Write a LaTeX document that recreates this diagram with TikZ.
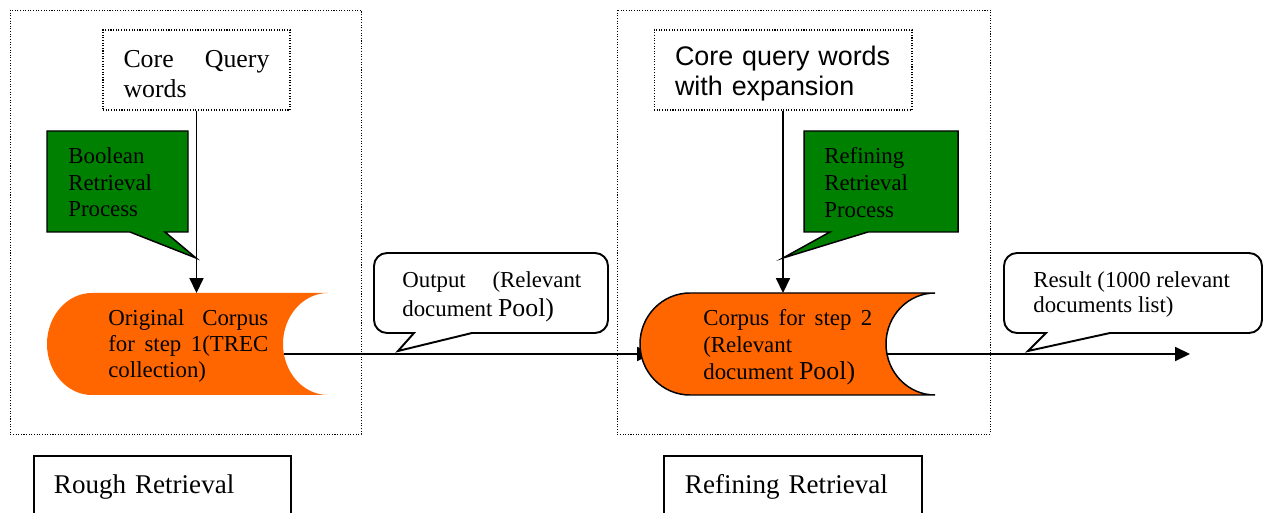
\documentclass[tikz,border=0pt]{standalone}
\usepackage{fontspec}
\setmainfont{Liberation Serif}
\newfontfamily\arialfont{Liberation Sans}
\usepackage{xcolor}
\usetikzlibrary{arrows.meta}

\definecolor{procgreen}{RGB}{0,128,0}
\definecolor{corpusorange}{RGB}{255,102,0}

\begin{document}
\begin{tikzpicture}[x=0.02cm, y=0.02cm,
    frame/.style={draw, dash pattern=on 0.6pt off 0.9pt, line width=0.5pt},
    querybox/.style={draw, dash pattern=on 0.6pt off 0.9pt, line width=0.6pt, minimum height=1.6cm, align=left},
    proc/.style={fill=procgreen, draw=black, line width=0.85pt},
    corpus/.style={fill=corpusorange},
    bubble/.style={fill=white, draw=black, line width=1.1pt},
    txt/.style={anchor=north west, inner sep=0pt, align=left, font=\fontsize{13pt}{15.3pt}\selectfont},
    labelbox/.style={draw, line width=1.1pt, anchor=north west, minimum height=1.24cm, align=left, font=\fontsize{15.4pt}{18pt}\selectfont},
    flow/.style={line width=0.85pt, -{Triangle[length=8.5pt, width=8pt]}}]

    \useasboundingbox (0,0) rectangle (1269,-513);
    \clip (0,0) rectangle (1269,-513);

    % the two stages
    \draw[frame] (10,-10) rectangle (361,-434);
    \draw[frame] (617,-10) rectangle (990,-434);

    % query words
    \node (queryA) [querybox, text width=2.92cm, inner xsep=0.41cm, font=\fontsize{14.7pt}{17pt}\selectfont] at (196.5,-70)
        {\rule{0pt}{14.5pt}\makebox[2.92cm]{Core\hfill Query}\\words};
    \node (queryB) [querybox, text width=4.32cm, inner xsep=0.42cm, font=\arialfont\fontsize{15.3pt}{17pt}\selectfont] at (783,-70)
        {\rule{0pt}{15.5pt}Core query words\\with expansion};

    % retrieval process callouts
    \draw[proc] (47,-131) -- (188,-131) -- (188,-232) -- (165,-232) -- (196,-258) -- (130,-232) -- (47,-232) -- cycle;
    \draw[proc] (804,-131) -- (958,-131) -- (958,-232) -- (868,-232) -- (783,-258) -- (830,-232) -- (804,-232) -- cycle;
    \node (boolproc) [txt] at (68,-147) {Boolean\\Retrieval\\Process};
    \node (refproc) [txt] at (824,-147) {Refining\\Retrieval\\Process};

    % corpus of step 1
    \fill[corpus] (92,-293) -- (328,-293) arc[start angle=90, end angle=270, x radius=45, y radius=51]
        -- (92,-395) arc[start angle=270, end angle=90, x radius=45, y radius=51] -- cycle;
    \node (corpusA) [txt, font=\fontsize{13pt}{15pt}\selectfont] at (108,-309)
        {\makebox[3.2cm][s]{Original Corpus}\\\makebox[3.2cm][s]{for step 1(TREC}\\collection)};

    \coordinate (topA) at (196.5,-293);
    \coordinate (topB) at (783,-293);
    \coordinate (outA) at (284,-354);
    \coordinate (inB) at (652,-354);
    \coordinate (outB) at (887,-354);
    \coordinate (resend) at (1190,-354);

    \draw[flow] (queryA) -- (topA);
    \draw[flow] (queryB) -- (topB);
    \draw[flow] (outA) -- (inB);

    % corpus of step 2
    \filldraw[corpus, draw=black, line width=0.85pt] (690,-293) -- (935,-293) arc[start angle=90, end angle=270, x radius=49, y radius=51]
        -- (690,-395) arc[start angle=270, end angle=90, x radius=50, y radius=51] -- cycle;
    \node (corpusB) [txt] at (703,-309)
        {\makebox[3.38cm][s]{Corpus for step 2}\\(Relevant\\document {\fontsize{14.7pt}{17pt}\selectfont Pool)}};

    \draw[flow] (outB) -- (resend);

    % output and result bubbles
    \draw[bubble] (387,-253) -- (595,-253) arc[start angle=90, end angle=0, radius=0.26cm] -- (608,-320)
        arc[start angle=0, end angle=-90, radius=0.26cm] -- (472,-333) -- (398,-351) -- (414,-333) -- (387,-333)
        arc[start angle=270, end angle=180, radius=0.26cm] -- (374,-266) arc[start angle=180, end angle=90, radius=0.26cm] -- cycle;
    \node (output) [txt, font=\fontsize{13pt}{16.4pt}\selectfont] at (402,-271)
        {\makebox[3.58cm][s]{Output (Relevant}\\document {\fontsize{14.7pt}{17pt}\selectfont Pool)}};

    \draw[bubble] (1017,-253) -- (1249,-253) arc[start angle=90, end angle=0, radius=0.26cm] -- (1262,-320)
        arc[start angle=0, end angle=-90, radius=0.26cm] -- (1110,-333) -- (1028,-351) -- (1046,-333) -- (1017,-333)
        arc[start angle=270, end angle=180, radius=0.26cm] -- (1004,-266) arc[start angle=180, end angle=90, radius=0.26cm] -- cycle;
    \node (result) [txt, font=\fontsize{13pt}{14.2pt}\selectfont] at (1033,-271)
        {Result (1000 relevant\\documents list)};

    % stage names
    \node (rough) [labelbox, text width=4.34cm, inner xsep=0.4cm] at (33,-455) {Rough Retrieval};
    \node (refining) [labelbox, text width=4.32cm, inner xsep=0.42cm] at (663,-455) {Refining Retrieval};
\end{tikzpicture}
\end{document}
